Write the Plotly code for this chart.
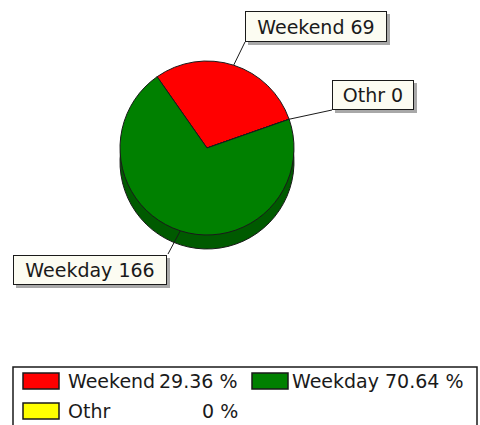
import math
import plotly.graph_objects as go

# ---- data ----
labels = ["Weekend", "Othr", "Weekday"]
values = [69, 0, 166]
top_colors = ["#FF0000", "#FFFF00", "#008000"]
side_colors = ["#B00000", "#B0B000", "#005A00"]
legend_order = ["Weekend", "Weekday", "Othr"]

# ---- layout constants (pixels) ----
W, H = 480, 425
CX, CY, R, DEPTH = 207, 148, 87, 14
ROTATION = -35
FONT = dict(family="DejaVu Sans, sans-serif", size=19, color="#1a1a1a")

def X(px):
    return px / W

def Y(py):
    return 1 - py / H

def domain(cy):
    return dict(x=[X(CX - R), X(CX + R)], y=[Y(cy + R), Y(cy - R)])

fig = go.Figure()
# side (extrusion) of the pie
fig.add_trace(go.Pie(
    labels=labels, values=values, sort=False, direction="clockwise",
    rotation=ROTATION, textinfo="none", hoverinfo="skip", showlegend=False,
    marker=dict(colors=side_colors, line=dict(color="#1a1a1a", width=1)),
    domain=domain(CY + DEPTH),
))
# top face
fig.add_trace(go.Pie(
    labels=labels, values=values, sort=False, direction="clockwise",
    rotation=ROTATION, textinfo="none", showlegend=False,
    marker=dict(colors=top_colors, line=dict(color="#1a1a1a", width=1)),
    domain=domain(CY),
))

total = sum(values)
shapes = []
annotations = []

# callout boxes (left, top, right, bottom) and where the leader line meets the box
boxes = {
    "Weekend": ((245, 11, 387, 42), (245, 42)),
    "Othr": ((332, 80, 414, 110), (332, 110)),
    "Weekday": ((13, 255, 167, 285), (168, 254)),
}

cum = 0
for lab, val in zip(labels, values):
    start = ROTATION + 360 * cum / total
    end = ROTATION + 360 * (cum + val) / total
    cum += val
    ang = math.radians((start + end) / 2)
    ax, ay = CX + R * math.sin(ang), CY - R * math.cos(ang)
    (l, t, r, b), (ex, ey) = boxes[lab]
    shapes.append(dict(type="line", xref="paper", yref="paper",
                       x0=X(ax), y0=Y(ay), x1=X(ex), y1=Y(ey),
                       line=dict(color="#1a1a1a", width=1), layer="above"))
    # shadow
    shapes.append(dict(type="rect", xref="paper", yref="paper",
                       x0=X(l + 3), y0=Y(b + 3), x1=X(r + 3), y1=Y(t + 3),
                       fillcolor="#a8a8a8", line=dict(width=0), layer="above"))
    annotations.append(dict(
        x=X(l), y=Y(t), xref="paper", yref="paper", xanchor="left", yanchor="top",
        text=f"{lab} {val}", showarrow=False, font=FONT,
        bgcolor="#FCFCF2", bordercolor="#1a1a1a", borderwidth=1, borderpad=0,
        width=r - l - 2, height=b - t - 2, align="center", valign="middle",
    ))

# ---- custom legend ----
shapes.append(dict(type="rect", xref="paper", yref="paper",
                   x0=X(13), y0=Y(432), x1=X(477), y1=Y(367),
                   fillcolor="white", line=dict(color="#1a1a1a", width=1.5), layer="below"))
slots = [(23, 373, 66, 240), (252, 373, 290, 466), (23, 403, 66, 240)]
color_of = dict(zip(labels, top_colors))
value_of = dict(zip(labels, values))
for lab, (sx, sy, tx, px_right) in zip(legend_order, slots):
    shapes.append(dict(type="rect", xref="paper", yref="paper",
                       x0=X(sx), y0=Y(sy + 16), x1=X(sx + 36), y1=Y(sy),
                       fillcolor=color_of[lab], line=dict(color="#1a1a1a", width=1.5),
                       layer="above"))
    pct = f"{value_of[lab] / total * 100:.2f}".rstrip("0").rstrip(".")
    annotations.append(dict(x=X(tx), y=Y(sy + 8), xref="paper", yref="paper",
                            xanchor="left", yanchor="middle", text=lab,
                            showarrow=False, font=FONT))
    annotations.append(dict(x=X(px_right), y=Y(sy + 8), xref="paper", yref="paper",
                            xanchor="right", yanchor="middle", text=f"{pct} %",
                            showarrow=False, font=FONT))

fig.update_layout(
    width=W, height=H, margin=dict(l=0, r=0, t=0, b=0),
    paper_bgcolor="white", plot_bgcolor="white",
    shapes=shapes, annotations=annotations, showlegend=False,
)
fig.write_html("out.html", config={"displayModeBar": False},
               post_script="document.body.style.margin='0';")
